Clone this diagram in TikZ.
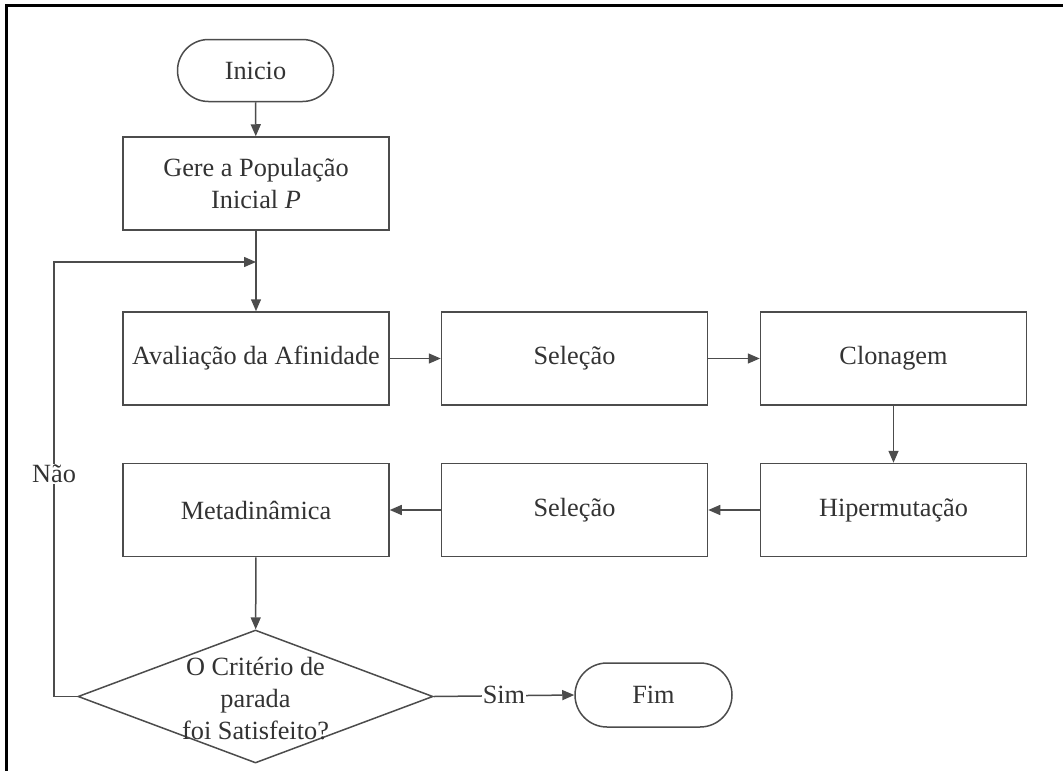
\documentclass[tikz,border=0pt]{standalone}
\usepackage{fontspec}
\setmainfont{Liberation Serif}
\usetikzlibrary{shapes.geometric,shapes.misc,arrows.meta}
\definecolor{ln}{gray}{0.3}
\definecolor{tx}{gray}{0.2}
\begin{document}
\begin{tikzpicture}[x=1pt,y=-1pt,
  every node/.style={font=\fontsize{26.3}{32}\selectfont, text=tx},
  box/.style={draw=ln, line width=1.5pt, rectangle, minimum width=266pt, minimum height=93pt, inner sep=0pt, align=center},
  term/.style={draw=ln, line width=1.5pt, rounded rectangle, minimum width=156pt, minimum height=62pt, inner sep=0pt},
  dec/.style={draw=ln, line width=1.5pt, diamond, minimum width=355pt, minimum height=133pt, inner sep=0pt},
  conn/.style={draw=ln, line width=1.5pt},
  arr/.style={conn, -{Triangle[length=12pt,width=10pt]}},
  lbl/.style={fill=white, inner sep=1pt}
]
\useasboundingbox (0,0) rectangle (1063,771);
\fill[white] (0,0) rectangle (1063,771);
\draw[line width=3pt, black] (6,775) -- (6,5) -- (1067,5);

\node[term] (inicio) at (255.5,70.5) {Inicio};
\node[box] (gere) at (256,183.5) {Gere a População\\Inicial \textit{P}};
\node[box] (aval) at (256,358.5) {Avaliação da Afinidade};
\node[box] (sel1) at (574.5,358.5) {Seleção};
\node[box] (clon) at (893.5,358.5) {Clonagem};
\node[box] (hiper) at (893.5,510) {Hipermutação};
\node[box] (sel2) at (574.5,510) {Seleção};
\node[box] (meta) at (256,510) {Metadinâmica};
\node[dec] (crit) at (255.5,696.5) {};
\node[align=center, inner sep=0pt] (crittxt) at (255.5,699) {O Critério de\\parada\\foi Satisfeito?};
\node[term, minimum width=157pt, minimum height=64pt] (fim) at (653.5,695) {Fim};

\coordinate (join) at (256,262);
\coordinate (loopbot) at (54,696.5);
\coordinate (looptop) at (54,262);

\draw[arr] (inicio) -- (gere);
\draw[arr] (gere) -- (aval);
\draw[arr] (aval) -- (sel1);
\draw[arr] (sel1) -- (clon);
\draw[arr] (clon) -- (hiper);
\draw[arr] (hiper) -- (sel2);
\draw[arr] (sel2) -- (meta);
\draw[arr] (meta) -- (crit);
\draw[arr] (crit.east) -- (fim.west);
\draw[arr] (crit.west) -- (loopbot) -- (looptop) -- (join);
\node[lbl] (nao) at (54,474) {Não};
\node[lbl] (sim) at (504,695) {Sim};
\end{tikzpicture}
\end{document}
